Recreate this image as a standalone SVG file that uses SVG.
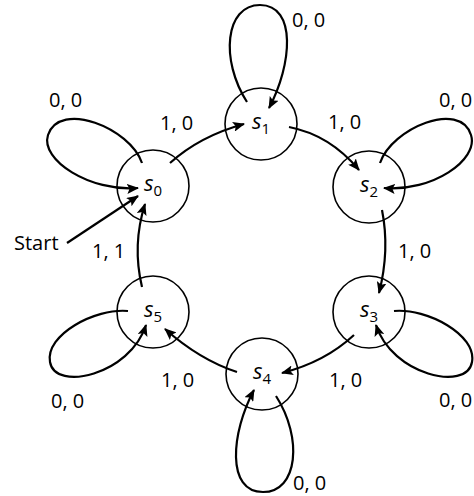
<svg xmlns="http://www.w3.org/2000/svg" width="474" height="496" viewBox="0 0 474 496">
<style>
.node circle{fill:#fff;stroke:#000;stroke-width:1.6}
.nl{font-family:"Open Sans","DejaVu Sans",sans-serif;font-size:22px;font-style:italic;fill:#000}
.sub{font-size:15px;font-style:normal}
.e{fill:none;stroke:#000;stroke-width:2.2;marker-end:url(#ah)}
.t{font-family:"Open Sans","DejaVu Sans",sans-serif;font-size:20px;fill:#000}
</style>
<defs>
<marker id="ah" viewBox="0 0 12 10" refX="11" refY="5" markerWidth="12" markerHeight="10" markerUnits="userSpaceOnUse" orient="auto">
<path d="M0,0 L12,5 L0,10 L2.5,5 z" fill="#000"/>
</marker>
</defs>
<g id="s0" class="node"><circle cx="153" cy="186" r="36"/><text class="nl" x="153" y="191" text-anchor="middle">s<tspan class="sub" dy="5">0</tspan></text></g>
<g id="s1" class="node"><circle cx="261" cy="124" r="36"/><text class="nl" x="261" y="129" text-anchor="middle">s<tspan class="sub" dy="5">1</tspan></text></g>
<g id="s2" class="node"><circle cx="369" cy="187" r="36"/><text class="nl" x="369" y="192" text-anchor="middle">s<tspan class="sub" dy="5">2</tspan></text></g>
<g id="s3" class="node"><circle cx="369" cy="312" r="36"/><text class="nl" x="369" y="317" text-anchor="middle">s<tspan class="sub" dy="5">3</tspan></text></g>
<g id="s4" class="node"><circle cx="262" cy="374" r="36"/><text class="nl" x="262" y="379" text-anchor="middle">s<tspan class="sub" dy="5">4</tspan></text></g>
<g id="s5" class="node"><circle cx="153" cy="312" r="36"/><text class="nl" x="153" y="317" text-anchor="middle">s<tspan class="sub" dy="5">5</tspan></text></g>
<g id="connectors">
<path class="e" d="M142,163 C130,128 60,100 48,135 C40,160 90,192 138,188"/>
<path class="e" d="M247,102 C220,60 225,5 260,5 C297,5 292,65 269,108"/>
<path class="e" d="M380,163 C392,128 460,100 471,135 C479,160 432,192 384,188"/>
<path class="e" d="M394,311 C427,308 477,335 472,362 C467,392 392,375 376,325"/>
<path class="e" d="M276,396 C303,438 298,492 263,492 C226,492 231,433 254,390"/>
<path class="e" d="M128,311 C95,308 45,335 50,362 C55,392 130,375 146,325"/>
<path class="e" d="M170,163 Q200,136 244,124"/>
<path class="e" d="M289,127 Q330,135 359,170"/>
<path class="e" d="M382,210 Q390,250 379,293"/>
<path class="e" d="M354,335 Q325,362 282,373"/>
<path class="e" d="M237,372 Q200,360 165,329"/>
<path class="e" d="M142,287 Q132,245 145,204"/>
<path class="e" d="M67,243 L138,196"/>
</g>
<g id="labels">
<text class="t" x="49" y="107">0, 0</text>
<text class="t" x="160" y="130">1, 0</text>
<text class="t" x="292" y="27">0, 0</text>
<text class="t" x="328" y="129">1, 0</text>
<text class="t" x="439" y="107">0, 0</text>
<text class="t" x="398" y="258">1, 0</text>
<text class="t" x="439" y="407">0, 0</text>
<text class="t" x="329" y="387">1, 0</text>
<text class="t" x="293" y="490">0, 0</text>
<text class="t" x="161" y="387">1, 0</text>
<text class="t" x="51" y="408">0, 0</text>
<text class="t" x="92" y="258">1, 1</text>
<text class="t" x="14" y="250">Start</text>
</g>
</svg>
